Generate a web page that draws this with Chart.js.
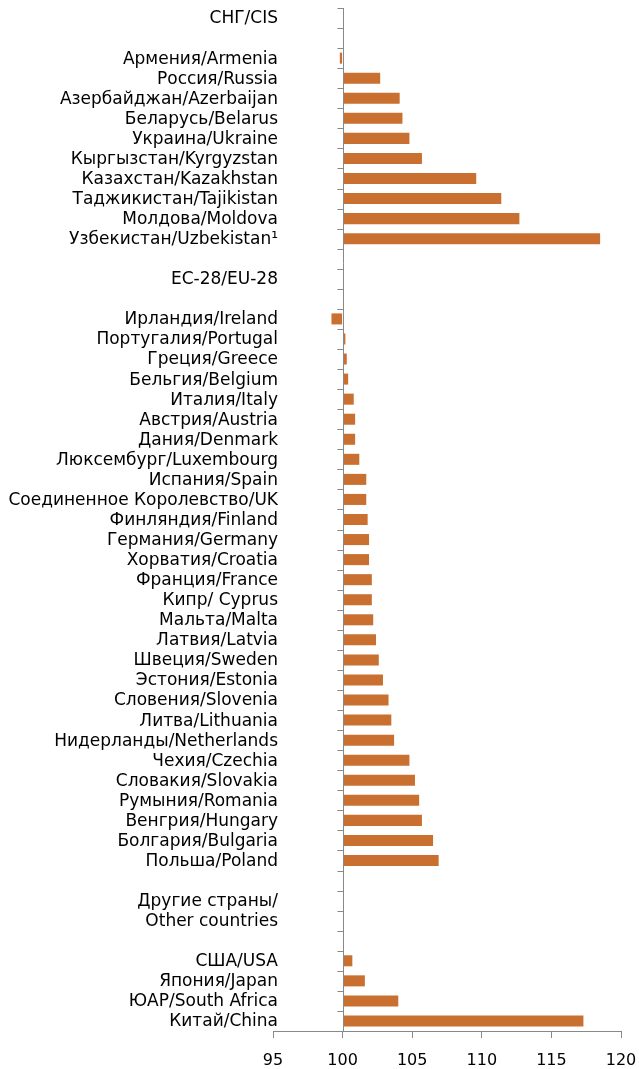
<!DOCTYPE html>
<html>
<head>
<meta charset="utf-8">
<script src="https://cdn.jsdelivr.net/npm/chart.js@4"></script>
<style>
  html, body { margin: 0; padding: 0; background: #fff; }
  canvas { display: block; }
</style>
</head>
<body>
<canvas id="chart" width="639" height="1069"></canvas>
<script>
// CIS
const cisLabels = [
  "Армения/Armenia", "Россия/Russia", "Азербайджан/Azerbaijan", "Беларусь/Belarus",
  "Украина/Ukraine", "Кыргызстан/Kyrgyzstan", "Казахстан/Kazakhstan",
  "Таджикистан/Tajikistan", "Молдова/Moldova", "Узбекистан/Uzbekistan¹"
];
const cisValues = [99.8, 102.7, 104.1, 104.3, 104.8, 105.7, 109.6, 111.4, 112.7, 118.5];

// EU-28
const euLabels = [
  "Ирландия/Ireland", "Португалия/Portugal", "Греция/Greece", "Бельгия/Belgium",
  "Италия/Italy", "Австрия/Austria", "Дания/Denmark", "Люксембург/Luxembourg",
  "Испания/Spain", "Соединенное Королевство/UK", "Финляндия/Finland", "Германия/Germany",
  "Хорватия/Croatia", "Франция/France", "Кипр/ Cyprus", "Мальта/Malta", "Латвия/Latvia",
  "Швеция/Sweden", "Эстония/Estonia", "Словения/Slovenia", "Литва/Lithuania",
  "Нидерланды/Netherlands", "Чехия/Czechia", "Словакия/Slovakia", "Румыния/Romania",
  "Венгрия/Hungary", "Болгария/Bulgaria", "Польша/Poland"
];
const euValues = [
  99.2, 100.2, 100.3, 100.4, 100.8, 100.9, 100.9, 101.2, 101.7, 101.7, 101.8, 101.9,
  101.9, 102.1, 102.1, 102.2, 102.4, 102.6, 102.9, 103.3, 103.5, 103.7, 104.8, 105.2,
  105.5, 105.7, 106.5, 106.9
];

// other countries
const otherLabels = ["США/USA", "Япония/Japan", "ЮАР/South Africa", "Китай/China"];
const otherValues = [100.7, 101.6, 104.0, 117.3];

const xTicks = [95, 100, 105, 110, 115, 120];

const labels = [
  "СНГ/CIS", "", ...cisLabels, "",
  "ЕС-28/EU-28", "", ...euLabels, "",
  "Другие страны/", "Other countries", "", ...otherLabels
];
const values = [
  null, null, ...cisValues, null,
  null, null, ...euValues, null,
  null, null, null, ...otherValues
];

const axisColor = "#898989";

// vertical axis crossing at 100 with tick marks between categories,
// plus category labels (they stick out a little past the plot's left edge)
const crossAxis = {
  id: "crossAxis",
  afterDatasetsDraw(chart) {
    const { ctx, chartArea, scales: { x, y } } = chart;
    const px = Math.round(x.getPixelForValue(100)) + 0.5;
    ctx.save();
    ctx.strokeStyle = axisColor;
    ctx.lineWidth = 1;
    ctx.beginPath();
    ctx.moveTo(px, chartArea.top);
    ctx.lineTo(px, chartArea.bottom);
    for (let i = 0; i < labels.length; i++) {
      const yy = Math.round(y.getPixelForValue(i - 0.5)) + 0.5;
      ctx.moveTo(px - 6, yy);
      ctx.lineTo(px, yy);
    }
    ctx.stroke();

    ctx.fillStyle = "#000";
    ctx.font = "17px 'DejaVu Sans'";
    ctx.textAlign = "right";
    ctx.textBaseline = "middle";
    labels.forEach((lab, i) => {
      if (lab) ctx.fillText(lab, chartArea.left + 5, y.getPixelForValue(i) + 1);
    });
    ctx.restore();
  }
};

new Chart(document.getElementById("chart"), {
  type: "bar",
  data: {
    labels: labels,
    datasets: [{
      data: values,
      base: 100,
      backgroundColor: "#C97030",
      barPercentage: 0.55,
      categoryPercentage: 1
    }]
  },
  options: {
    indexAxis: "y",
    responsive: false,
    animation: false,
    layout: { padding: { top: 8, right: 18, left: 0, bottom: 0 } },
    plugins: { legend: { display: false }, tooltip: { enabled: false } },
    scales: {
      x: {
        min: 95,
        max: 120,
        afterBuildTicks: s => { s.ticks = xTicks.map(v => ({ value: v })); },
        afterFit: s => {
          s.height = 38;
          s.paddingLeft = 0;
          s.paddingRight = 0;
        },
        ticks: {
          color: "#000",
          padding: 13,
          maxRotation: 0,
          font: { family: "DejaVu Sans", size: 16 }
        },
        grid: { drawOnChartArea: false, drawTicks: true, tickLength: 7, color: axisColor },
        border: { color: axisColor }
      },
      y: {
        afterFit: s => { s.width = 273; },
        grid: { display: false, drawTicks: false },
        border: { display: false },
        ticks: { display: false, autoSkip: false }
      }
    }
  },
  plugins: [crossAxis]
});
</script>
</body>
</html>
